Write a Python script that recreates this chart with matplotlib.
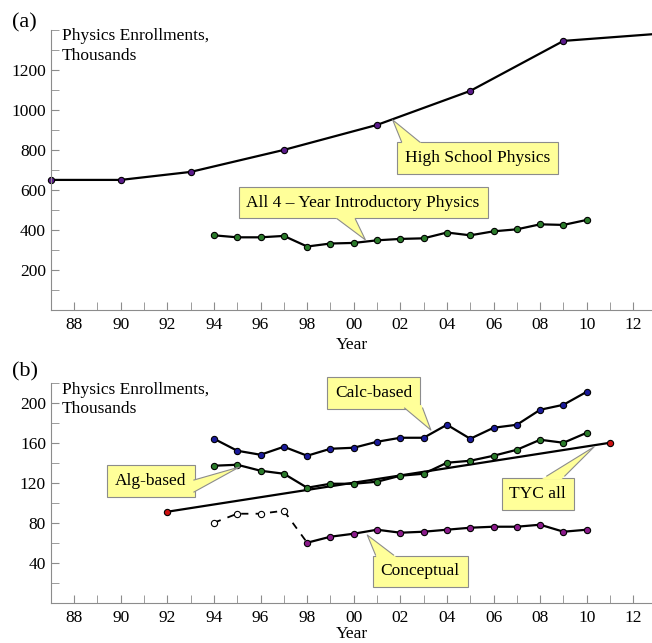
import matplotlib
matplotlib.use("Agg")
import matplotlib.pyplot as plt
from matplotlib.patches import Polygon
import numpy as np

plt.rcParams['font.family'] = ['Liberation Serif', 'DejaVu Serif']

# ---- data (a) ----
hs_years = [1987, 1990, 1993, 1997, 2001, 2005, 2009, 2013]
hs_vals = [650, 650, 690, 800, 925, 1095, 1345, 1380]

intro_years = list(range(1994, 2011))
intro_vals = [373, 363, 363, 370, 317, 332, 335, 348, 355, 358, 387, 373, 393, 403, 428, 425, 450]

# ---- data (b) ----
b_years = list(range(1994, 2011))
calc_vals = [164, 152, 148, 156, 147, 154, 155, 161, 165, 165, 178, 164, 175, 178, 193, 198, 211]
alg_vals = [137, 138, 132, 129, 115, 119, 119, 121, 127, 129, 140, 142, 147, 153, 163, 160, 170]
conc_vals = [80, 89, 89, 92, 60, 66, 69, 73, 70, 71, 73, 75, 76, 76, 78, 71, 73]
tyc_years = [1992, 2011]
tyc_vals = [91, 160]

tick_years = list(range(1988, 2013, 2))
tick_labels = ["{:02d}".format(y % 100) for y in tick_years]

yellow = '#ffff99'
gray = '#8c8c8c'

fig = plt.figure(figsize=(6.52, 6.43), dpi=100)


def style_axes(ax, ymax, ystep, lpad):
    ax.set_xlim(1987, 2012.8)
    ax.set_ylim(0, ymax)
    for s in ['top', 'right']:
        ax.spines[s].set_visible(False)
    for s in ['left', 'bottom']:
        ax.spines[s].set_color(gray)
    ax.set_xticks(tick_years)
    ax.set_xticklabels(tick_labels)
    ax.set_xticks(range(1987, 2013), minor=True)
    ax.set_yticks(range(ystep, ymax, ystep))
    ax.set_yticks(range(ystep // 2, ymax + 1, ystep // 2), minor=True)
    ax.tick_params(which='both', direction='in', length=6, color=gray, labelsize=12.5)
    ax.tick_params(axis='x', pad=5)
    ax.set_xlabel("Year", fontsize=12.5, labelpad=lpad)
    ax.text(0.018, 1.005, "Physics Enrollments,\nThousands", transform=ax.transAxes,
            ha='left', va='top', fontsize=12.5, linespacing=1.3)


def callout(ax, text, tip, textpos, base, side):
    # yellow box with a wedge pointer; base is where the wedge meets the box
    ax.text(textpos[0], textpos[1], text, ha='center', va='center', fontsize=12.5, zorder=5,
            bbox=dict(boxstyle='square,pad=0.45', fc=yellow, ec=gray, lw=0.8))
    t = ax.transData.transform(tip)
    b = ax.transData.transform(base)
    half = 9 if side == 'h' else 6
    off = np.array([half, 0]) if side == 'h' else np.array([0, half])
    # push base a little into the box so the fill covers the box border
    d = (b - t) / np.linalg.norm(b - t)
    ext = 3 / abs(d[1] if side == 'h' else d[0])
    k = (np.linalg.norm(b - t) + ext) / np.linalg.norm(b - t)
    b1 = t + (b - off - t) * k
    b2 = t + (b + off - t) * k
    inv = ax.transData.inverted()
    pts = inv.transform(np.array([b1, t, b2]))
    ax.add_patch(Polygon(pts, closed=True, fc=yellow, ec='none', zorder=6))
    e1 = inv.transform(np.array([b - off, t, b + off]))
    ax.plot(e1[:, 0], e1[:, 1], color=gray, lw=0.8, zorder=7)


mk = dict(marker='o', markersize=4.5, markeredgecolor='black', markeredgewidth=0.8)

# ---- panel (a) ----
ax1 = fig.add_axes([0.078, 0.518, 0.922, 0.4355])
style_axes(ax1, 1400, 200, 3)
ax1.plot(hs_years, hs_vals, color='black', lw=1.6, markerfacecolor='#5a1a8a',
         clip_on=False, **mk)
ax1.plot(intro_years, intro_vals, color='black', lw=1.6, markerfacecolor='#2a7a2a', **mk)
callout(ax1, "High School Physics", (2001.67, 950), (2005.3, 760), (2002.44, 840), 'h')
callout(ax1, "All 4 \u2013 Year Introductory Physics", (2000.5, 350), (2000.4, 537),
        (1999.68, 455), 'h')
fig.text(0.018, 0.958, "(a)", fontsize=16)

# ---- panel (b) ----
ax2 = fig.add_axes([0.078, 0.0627, 0.922, 0.342])
style_axes(ax2, 220, 40, 0.5)
ax2.plot(tyc_years, tyc_vals, color='black', lw=1.6, markerfacecolor='#cc1111', **mk)
ax2.plot(b_years, calc_vals, color='black', lw=1.6, markerfacecolor='#1a1a9a', **mk)
ax2.plot(b_years, alg_vals, color='black', lw=1.6, markerfacecolor='#2a7a2a', **mk)
ax2.plot(b_years[:5], conc_vals[:5], color='black', lw=1.3, ls=(0, (4, 4)))
ax2.plot(b_years[:4], conc_vals[:4], ls='none', markerfacecolor='white', **mk)
ax2.plot(b_years[4:], conc_vals[4:], color='black', lw=1.6, markerfacecolor='#8a1a8a', **mk)
callout(ax2, "Calc-based", (2003.31, 172.7), (2000.85, 210), (2002.57, 194.7), 'h')
callout(ax2, "Alg-based", (1995.09, 135.7), (1991.3, 121.7), (1993.14, 116.7), 'v')
callout(ax2, "TYC all", (2010.32, 156), (2007.9, 108.7), (2008.67, 126.7), 'h')
callout(ax2, "Conceptual", (2000.58, 67.7), (2002.85, 31.2), (2001.32, 47.7), 'h')
fig.text(0.018, 0.415, "(b)", fontsize=16)

fig.savefig("out.png", dpi=100)
